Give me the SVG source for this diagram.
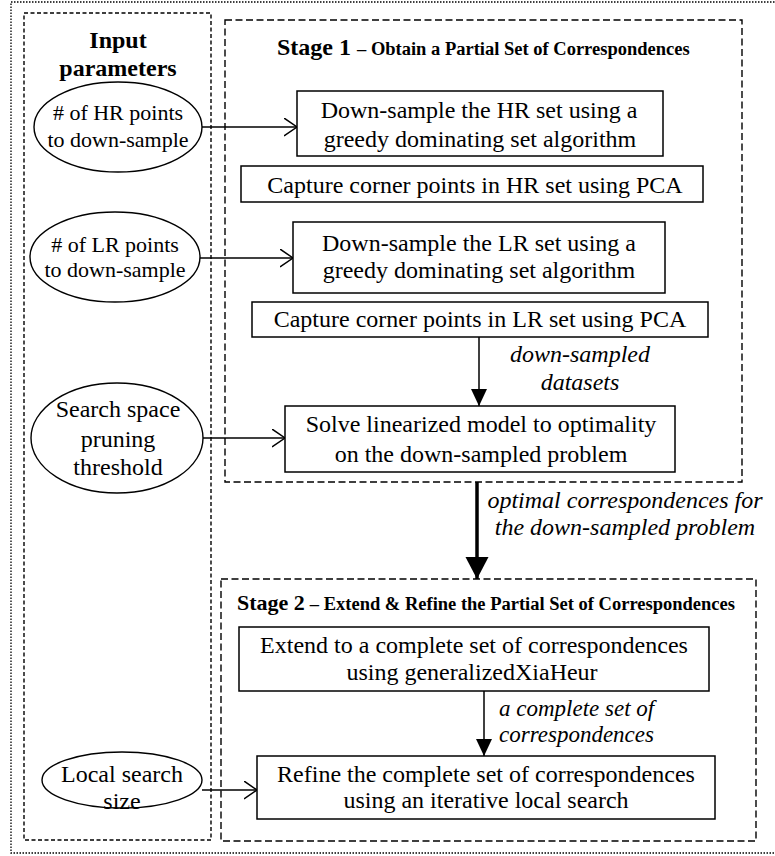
<svg xmlns="http://www.w3.org/2000/svg" width="775" height="856" viewBox="0 0 775 856">
<style>
text{font-family:"Liberation Serif","Times New Roman",serif;fill:#000}
.t{font-size:24px;text-anchor:middle}
.e{font-size:22px;text-anchor:middle}
.i{font-size:24px;font-style:italic}
.b{font-weight:bold}
.box{fill:#fff;stroke:#000;stroke-width:1.5}
.ell{fill:#fff;stroke:#000;stroke-width:1.4}
.panel{fill:none;stroke:#000;stroke-width:1.4;stroke-dasharray:7 3.5}
.inpanel{fill:none;stroke:#000;stroke-width:1.4;stroke-dasharray:4 2.5}
.outer{fill:none;stroke:#000;stroke-width:1.3;stroke-dasharray:1.5 1.5}
.c{stroke:#000;stroke-width:1.5;fill:none}
</style>
<defs>
<marker id="open" markerUnits="userSpaceOnUse" markerWidth="16" markerHeight="20" refX="13.5" refY="9.5" orient="auto"><path d="M0.5,0.5 L13.5,9.5 L0.5,18.5" fill="none" stroke="#000" stroke-width="1.5"/></marker>
<marker id="fill" markerUnits="userSpaceOnUse" markerWidth="18" markerHeight="16" refX="17" refY="8" orient="auto"><path d="M0,0 L17,8 L0,16 z" fill="#000"/></marker>
<marker id="big" markerUnits="userSpaceOnUse" markerWidth="23" markerHeight="24" refX="22" refY="11.5" orient="auto"><path d="M0,0 L22,11.5 L0,23 z" fill="#000"/></marker>
</defs>
<rect class="outer" x="11" y="2" width="790" height="851"/>
<g id="input-panel">
<rect class="inpanel" x="24" y="13" width="187" height="827"/>
<text class="t b" x="118" y="48">Input</text>
<text class="t b" x="118" y="76">parameters</text>
</g>
<g id="stage1">
<rect class="panel" x="225" y="20" width="517" height="462"/>
<text x="277" y="55" class="b" style="font-size:24px">Stage 1<tspan dx="6" style="font-size:18.5px">– Obtain a Partial Set of Correspondences</tspan></text>
</g>
<g id="stage2">
<rect class="panel" x="221" y="579" width="535" height="262"/>
<text x="237" y="610" class="b" style="font-size:22px">Stage 2<tspan dx="5" style="font-size:18.5px">– Extend &amp; Refine the Partial Set of Correspondences</tspan></text>
</g>
<g id="connectors">
<line class="c" x1="202" y1="127" x2="297" y2="127" marker-end="url(#open)"/>
<line class="c" x1="200" y1="258" x2="293" y2="258" marker-end="url(#open)"/>
<line class="c" x1="203" y1="438" x2="285" y2="438" marker-end="url(#open)"/>
<line class="c" x1="202" y1="790" x2="257" y2="790" marker-end="url(#open)"/>
<line class="c" x1="479" y1="337" x2="479" y2="406" marker-end="url(#fill)"/>
<line class="c" x1="477" y1="482" x2="477" y2="579" style="stroke-width:3.5" marker-end="url(#big)"/>
<line class="c" x1="484" y1="691" x2="484" y2="756" marker-end="url(#fill)"/>
<text class="i" x="580" y="362" text-anchor="middle">down-sampled</text>
<text class="i" x="580" y="390" text-anchor="middle">datasets</text>
<text class="i" x="625" y="508" text-anchor="middle">optimal correspondences for</text>
<text class="i" x="625" y="535" text-anchor="middle">the down-sampled problem</text>
<text class="i" x="499" y="716" style="font-size:23px">a complete set of</text>
<text class="i" x="499" y="742" style="font-size:23px">correspondences</text>
</g>
<g id="p-hr">
<ellipse class="ell" cx="118" cy="127" rx="84" ry="45"/>
<text class="e" x="118" y="120"># of HR points</text>
<text class="e" x="118" y="147">to down-sample</text>
</g>
<g id="p-lr">
<ellipse class="ell" cx="115" cy="257" rx="85" ry="45"/>
<text class="e" x="115" y="252"># of LR points</text>
<text class="e" x="115" y="277">to down-sample</text>
</g>
<g id="p-search">
<ellipse class="ell" cx="117" cy="438" rx="86" ry="55"/>
<text class="t" x="118" y="417">Search space</text>
<text class="t" x="118" y="447">pruning</text>
<text class="t" x="118" y="475">threshold</text>
</g>
<g id="p-local">
<ellipse class="ell" cx="122" cy="780" rx="80" ry="28"/>
<text class="t" x="122" y="782">Local search</text>
<text class="t" x="122" y="809">size</text>
</g>
<g id="n-ds-hr">
<rect class="box" x="297" y="91" width="366" height="65"/>
<text class="t" x="479" y="118">Down-sample the HR set using a</text>
<text class="t" x="480" y="147">greedy dominating set algorithm</text>
</g>
<g id="n-pca-hr">
<rect class="box" x="241" y="166" width="462" height="36"/>
<text class="t" x="475" y="193">Capture corner points in HR set using PCA</text>
</g>
<g id="n-ds-lr">
<rect class="box" x="293" y="222" width="372" height="71"/>
<text class="t" x="479" y="251">Down-sample the LR set using a</text>
<text class="t" x="479" y="278">greedy dominating set algorithm</text>
</g>
<g id="n-pca-lr">
<rect class="box" x="252" y="302" width="456" height="35"/>
<text class="t" x="480" y="327">Capture corner points in LR set using PCA</text>
</g>
<g id="n-solve">
<rect class="box" x="285" y="406" width="390" height="66"/>
<text class="t" x="481" y="432">Solve linearized model to optimality</text>
<text class="t" x="481" y="462">on the down-sampled problem</text>
</g>
<g id="n-extend">
<rect class="box" x="239" y="627" width="470" height="64"/>
<text class="t" x="474" y="653">Extend to a complete set of correspondences</text>
<text class="t" x="472" y="680">using generalizedXiaHeur</text>
</g>
<g id="n-refine">
<rect class="box" x="257" y="756" width="458" height="63"/>
<text class="t" x="486" y="782">Refine the complete set of correspondences</text>
<text class="t" x="486" y="808">using an iterative local search</text>
</g>
</svg>
